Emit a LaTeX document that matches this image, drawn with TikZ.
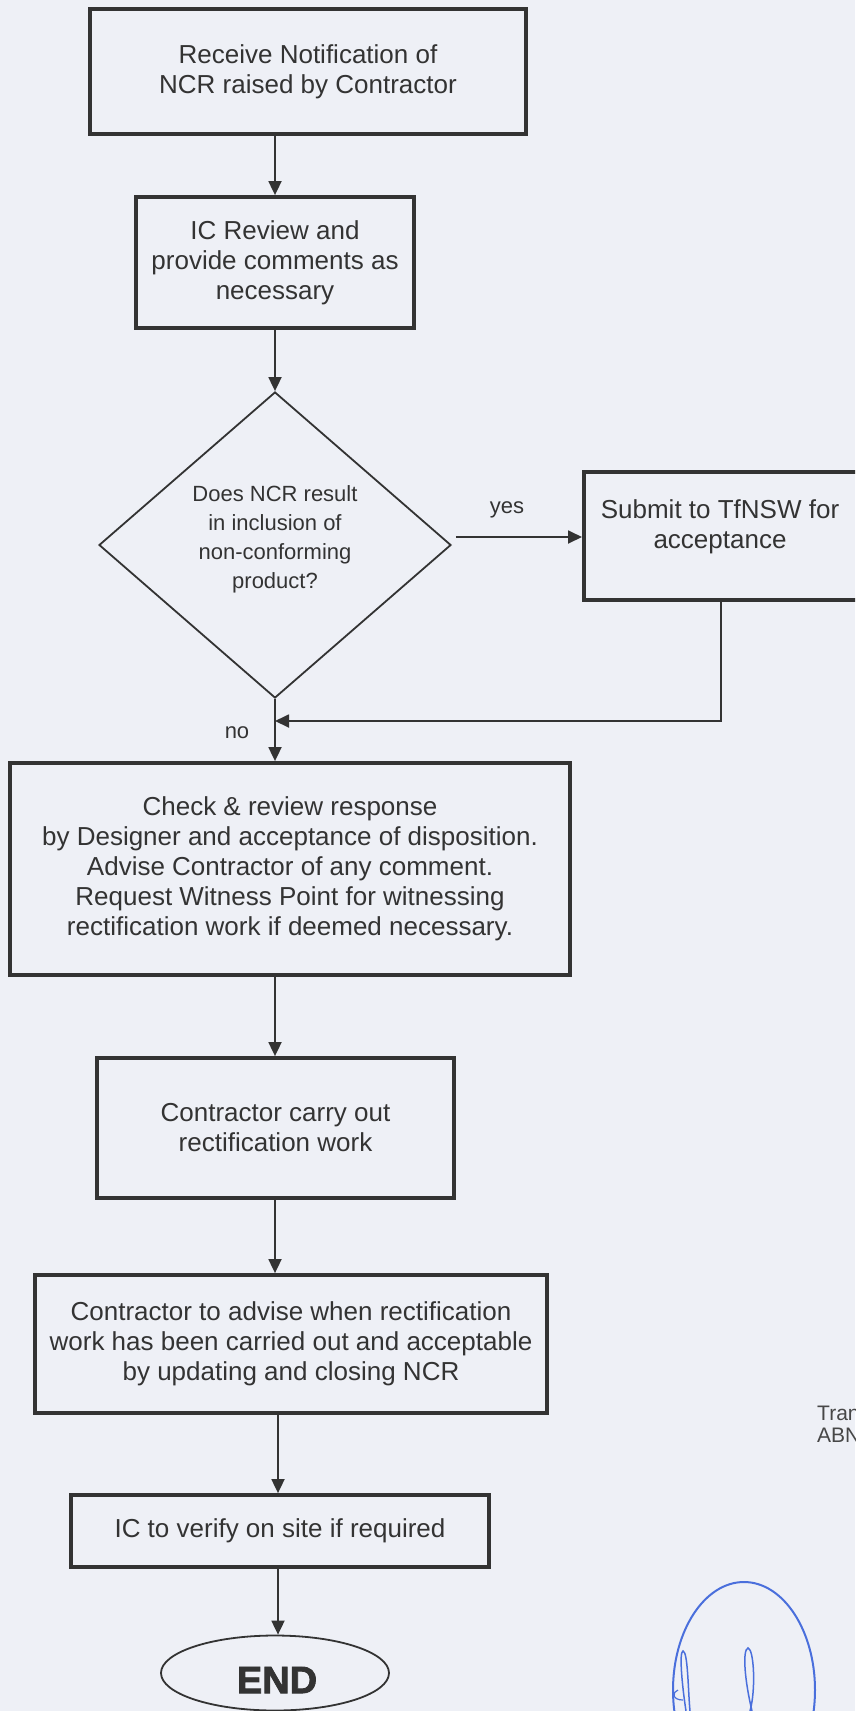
\documentclass[tikz,border=0pt]{standalone}
\usepackage{fontspec}
\setmainfont{Liberation Sans}
\newfontfamily\heavyfont[FakeBold=2.2]{Liberation Sans Bold}
\usetikzlibrary{arrows.meta,shapes.geometric}
\definecolor{bg}{HTML}{EEF0F6}
\definecolor{ink}{HTML}{333333}
\definecolor{sig}{HTML}{4A6FDC}
\begin{document}
\begin{tikzpicture}[x=1pt,y=-1pt,
  box/.style={draw=ink,line width=3.8pt,rectangle,align=center,text=ink,
              font=\fontsize{26}{30}\selectfont,inner sep=0pt},
  txt/.style={align=center,text=ink,font=\fontsize{26}{30}\selectfont,inner sep=0pt},
  small/.style={align=center,text=ink,font=\fontsize{22}{29}\selectfont,inner sep=0pt},
  thin/.style={draw=ink,line width=1.8pt},
  edgetext/.style={anchor=west,text=ink!90,inner sep=0pt,font=\fontsize{21}{22}\selectfont},
  arr/.style={draw=ink,line width=1.8pt,-{Triangle[length=14pt,width=13pt]}}]
\fill[bg] (0,0) rectangle (855,1711);
\useasboundingbox (0,0) rectangle (855,1711);
\clip (0,0) rectangle (855,1711);

\coordinate (col) at (275,0);
\coordinate (col2) at (278,0);

% boxes
\node[box,minimum width=436pt,minimum height=125pt] (b1) at (308,71.5)
  {Receive Notification of\\NCR raised by Contractor};
\node[box,minimum width=278pt,minimum height=131pt] (b2) at (275,262.5)
  {IC Review and\\provide comments as\\necessary};
\node[thin,diamond,minimum width=352pt,minimum height=306pt,inner sep=0pt] (dia) at (275,545) {};
\node[small] (diat) at (275,539)
  {Does NCR result\\in inclusion of\\non-conforming\\product?};
\node[box,minimum width=280pt,minimum height=128pt,anchor=west] (tf) at (582,536) {};
\node[txt] (tft) at (720,527) {Submit to TfNSW for\\acceptance};
\node[box,minimum width=560pt,minimum height=212pt] (b3) at (290,869)
  {Check \& review response\\by Designer and acceptance of disposition.\\Advise Contractor of any comment.\\Request Witness Point for witnessing\\rectification work if deemed necessary.};
\node[box,minimum width=357pt,minimum height=140pt] (b4) at (275.5,1128)
  {Contractor carry out\\rectification work};
\node[box,minimum width=512pt,minimum height=138pt] (b5) at (291,1344)
  {Contractor to advise when rectification\\work has been carried out and acceptable\\by updating and closing NCR};
\node[box,minimum width=418pt,minimum height=72pt] (b6) at (280,1531)
  {IC to verify on site if required};
\node[thin,ellipse,minimum width=228pt,minimum height=75pt,inner sep=0pt] (end) at (275,1673) {};
\node[text=ink,inner sep=0pt,font=\heavyfont\fontsize{38}{40}\selectfont] (endt) at (277,1680) {END};

% labels
\node[small] (yes) at (507,510) {yes};
\node[small] (no) at (237,733) {no};

% connectors
\draw[arr] (b1.south -| col) -- (b2.north -| col);
\draw[arr] (b2.south -| col) -- (dia.north);
\draw[arr] ([shift={(4pt,8pt)}]dia.east) coordinate (ys) -- (ys -| tf.west);
\draw[arr] (dia.south) -- (dia.south |- b3.north);
\coordinate (ret) at (721,721);
\draw[arr] (tf.south -| ret) -- (ret) -- (ret -| dia.south);
\draw[arr] (b3.south -| col) -- (b4.north -| col);
\draw[arr] (b4.south -| col) -- (b5.north -| col);
\draw[arr] (b5.south -| col2) -- (b6.north -| col2);
\draw[arr] (b6.south -| col2) -- (end.north -| col2);

% edge text and signature
\node[edgetext] (tran) at (817,1413) {Tran};
\node[edgetext] (abn) at (817,1435) {ABN};
\draw[sig,line width=2pt] (744,1690) ellipse [x radius=71, y radius=108];
\draw[sig,line width=1.5pt] (686,1711) .. controls (682,1685) and (679,1652) .. (683,1651)
  .. controls (688,1652) and (688,1690) .. (690,1711);
\draw[sig,line width=1.2pt] (683,1700) .. controls (672,1700) and (672,1692) .. (678,1690);
\draw[sig,line width=1.5pt] (752,1711) .. controls (745,1682) and (742,1650) .. (748,1648)
  .. controls (754,1649) and (756,1690) .. (750,1711);
\end{tikzpicture}
\end{document}
